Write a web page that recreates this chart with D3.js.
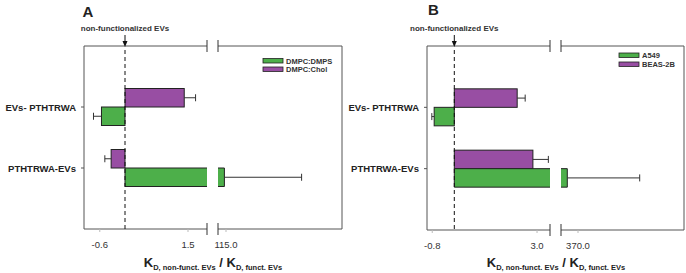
<!DOCTYPE html>
<html><head><meta charset="utf-8">
<script src="https://cdn.jsdelivr.net/npm/d3@7"></script>
<style>
body{margin:0;background:#fff;}
svg{display:block;font-family:Arial,"Liberation Sans",sans-serif;}
</style></head>
<body><svg id="c" width="686" height="273"></svg>
<script>
// ---------- data ----------
const categories = ["EVs- PTHTRWA", "PTHTRWA-EVs"];
// Panel A
const seriesA = ["DMPC:DMPS", "DMPC:Chol"];
const dmpsValues = [-0.56, 114.6];
const dmpsErrors = [0.19, 19.3];
const cholValues = [1.41, -0.33];
const cholErrors = [0.27, 0.15];
const ticksA = [-0.6, 1.5, 115.0];
// Panel B
const seriesB = ["A549", "BEAS-2B"];
const a549Values = [-0.73, 359.3];
const a549Errors = [0.085, 72.4];
const beasValues = [2.28, 2.85];
const beasErrors = [0.29, 0.56];
const ticksB = [-0.8, 3.0, 370.0];

const GREEN = "#4daf4a", PURPLE = "#984ea3";
const svg = d3.select("#c");

function panel(cfg){
  const g = svg.append("g");
  const {x0, xb1, xb2, x1, y0, y1} = cfg;
  const xL = d3.scaleLinear().domain(cfg.domL).range([x0, xb1]);
  const xR = d3.scaleLinear().domain(cfg.domR).range([xb2, x1]);
  const pos = v => v <= cfg.domL[1] ? xL(v) : xR(v);
  const y = d3.scaleLinear().domain([0, 3]).range([y0, y1]);
  const bh = 18.5;

  // frame
  const fc = "#555";
  const line = (xa, ya, xb, yb, col, w) => g.append("line").attr("x1", xa).attr("y1", ya).attr("x2", xb).attr("y2", yb)
      .attr("stroke", col || fc).attr("stroke-width", w || 1);
  line(x0, y0, x0, y1);
  line(x1, y0, x1, y1);
  [y0, y1].forEach(yy => {
    line(x0, yy, xb1, yy);
    line(xb2, yy, x1, yy);
    line(xb1, yy - 6, xb1, yy + 6, "#333");
    line(xb2, yy - 6, xb2, yy + 6, "#333");
  });

  // category ticks + labels
  categories.forEach((c, i) => {
    const yy = y(i + 1);
    line(x0 - 3, yy, x0, yy);
    g.append("text").attr("x", x0 - 8).attr("y", yy + 3.5).attr("text-anchor", "end")
      .attr("font-size", 9.5).attr("font-weight", "bold").attr("fill", "#222").text(c);
  });

  // x tick labels
  cfg.ticks.forEach(t => {
    const xx = pos(t);
    line(xx, y1, xx, y1 + 3, "#bbb");
    g.append("text").attr("x", xx).attr("y", y1 + 19).attr("text-anchor", "middle")
      .attr("font-size", 9.5).attr("fill", "#333").text(t.toFixed(1));
  });

  // bars
  const drawBar = (v, e, yTop, col) => {
    const z = xL(0);
    const yc = yTop + bh / 2;
    if (v <= cfg.domL[1]) {
      const xa = Math.min(z, xL(v)), w = Math.abs(xL(v) - z);
      g.append("rect").attr("x", xa).attr("y", yTop).attr("width", w).attr("height", bh)
        .attr("fill", col).attr("stroke", "#222").attr("stroke-width", 1);
    } else {
      g.append("rect").attr("x", z).attr("y", yTop).attr("width", xb1 - z).attr("height", bh).attr("fill", col);
      g.append("rect").attr("x", xb2).attr("y", yTop).attr("width", xR(v) - xb2).attr("height", bh).attr("fill", col);
      g.append("path").attr("fill", "none").attr("stroke", "#222").attr("stroke-width", 1)
        .attr("d", `M${xb1},${yTop}H${z}V${yTop + bh}H${xb1}`);
      g.append("path").attr("fill", "none").attr("stroke", "#222").attr("stroke-width", 1)
        .attr("d", `M${xb2},${yTop}H${xR(v)}V${yTop + bh}H${xb2}`);
    }
    const ve = v < 0 ? v - e : v + e;
    const xs = pos(v), xe = pos(ve);
    line(xs, yc, xe, yc, "#333");
    line(xe, yc - 3.5, xe, yc + 3.5, "#333");
  };
  categories.forEach((c, i) => {
    const yc = y(i + 1);
    drawBar(cfg.topVals[i], cfg.topErr[i], yc - bh, PURPLE);
    drawBar(cfg.botVals[i], cfg.botErr[i], yc, GREEN);
  });

  // dashed reference line + arrow
  const z = xL(0);
  line(z, y0 + 4, z, y1, "#111").attr("stroke-dasharray", "4,3");
  line(z, 35, z, y0 - 2, "#111");
  g.append("path").attr("d", `M${z - 2.5},${y0 - 5}L${z + 2.5},${y0 - 5}L${z},${y0 + 1}Z`).attr("fill", "#111");
  g.append("text").attr("x", z).attr("y", 31).attr("text-anchor", "middle")
    .attr("font-size", 8).attr("font-weight", "bold").attr("fill", "#333").text("non-functionalized EVs");

  // panel letter
  g.append("text").attr("x", cfg.letterX).attr("y", cfg.letterY).attr("font-size", 15)
    .attr("font-weight", "bold").attr("fill", "#222").text(cfg.letter);

  // legend
  cfg.series.forEach((s, i) => {
    const ly = cfg.legY + i * cfg.legDy;
    g.append("rect").attr("x", cfg.legX).attr("y", ly).attr("width", 20).attr("height", 4.5)
      .attr("fill", i === 0 ? GREEN : PURPLE).attr("stroke", "#222").attr("stroke-width", 0.8);
    g.append("text").attr("x", cfg.legX + 23).attr("y", ly + 5).attr("font-size", 7.5)
      .attr("font-weight", "bold").attr("fill", "#333").text(s);
  });

  // axis title
  const t = g.append("text").attr("x", cfg.titleX).attr("y", 267).attr("text-anchor", "middle")
    .attr("font-weight", "bold").attr("fill", "#222");
  t.append("tspan").attr("font-size", 13).text("K");
  t.append("tspan").attr("font-size", 7.5).attr("dy", 3).text("D, non-funct. EVs");
  t.append("tspan").attr("font-size", 13).attr("dy", -3).text(" / K");
  t.append("tspan").attr("font-size", 7.5).attr("dy", 3).text("D, funct. EVs");
}

panel({x0: 84, xb1: 207, xb2: 218, x1: 342, y0: 46, y1: 229,
  domL: [-0.976, 1.952], domR: [113, 144],
  ticks: ticksA, topVals: cholValues, topErr: cholErrors, botVals: dmpsValues, botErr: dmpsErrors,
  series: seriesA, legX: 263, legY: 58.5, legDy: 8.5, letter: "A", letterX: 82.5, letterY: 17, titleX: 213});
panel({x0: 427, xb1: 550, xb2: 561, x1: 684, y0: 46, y1: 230,
  domL: [-0.99, 3.47], domR: [353, 476],
  ticks: ticksB, topVals: beasValues, topErr: beasErrors, botVals: a549Values, botErr: a549Errors,
  series: seriesB, legX: 619, legY: 53, legDy: 9, letter: "B", letterX: 428, letterY: 15, titleX: 556});
</script></body></html>
